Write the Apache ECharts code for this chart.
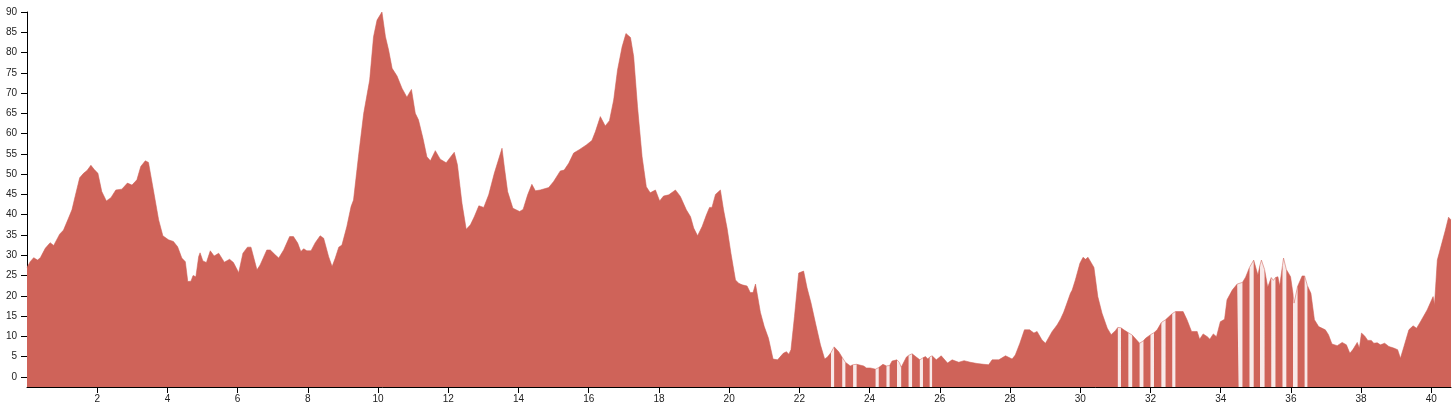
<!DOCTYPE html>
<html>
<head>
<meta charset="utf-8">
<script src="https://cdn.jsdelivr.net/npm/echarts@6/dist/echarts.min.js"></script>
<style>
html,body{margin:0;padding:0;background:#fff;}
#chart{width:1453px;height:407px;}
</style>
</head>
<body>
<div id="chart"></div>
<script>
// distance (x) values
const dist = [
0.00,0.09,0.19,0.30,0.38,0.52,0.66,0.76,0.93,1.04,1.18,1.28,1.37,1.50,1.61,1.71,1.82,1.91,2.02,2.13,
2.26,2.39,2.53,2.70,2.86,2.99,3.13,3.24,3.37,3.46,3.60,3.75,3.87,4.03,4.17,4.29,4.41,4.51,4.58,4.67,
4.73,4.81,4.89,4.93,5.01,5.11,5.22,5.33,5.46,5.62,5.77,5.88,6.03,6.15,6.28,6.38,6.55,6.64,6.83,6.93,
7.07,7.17,7.31,7.48,7.59,7.71,7.80,7.88,7.97,8.09,8.21,8.35,8.45,8.59,8.69,8.78,8.88,8.97,9.11,9.23,
9.30,9.44,9.59,9.76,9.87,9.97,10.11,10.21,10.30,10.40,10.54,10.68,10.82,10.95,11.06,11.15,11.28,11.39,11.49,11.63,
11.77,11.94,12.06,12.17,12.26,12.39,12.51,12.63,12.74,12.87,13.01,13.15,13.31,13.53,13.60,13.69,13.84,14.03,14.13,14.26,
14.38,14.48,14.62,14.86,15.00,15.19,15.30,15.43,15.57,15.74,15.93,16.09,16.19,16.33,16.47,16.59,16.71,16.82,16.95,17.06,
17.19,17.28,17.39,17.52,17.64,17.75,17.90,18.02,18.13,18.28,18.47,18.61,18.78,18.90,18.99,19.10,19.23,19.35,19.44,19.51,
19.61,19.75,19.84,19.94,20.05,20.18,20.27,20.37,20.51,20.60,20.68,20.75,20.89,21.00,21.12,21.25,21.38,21.54,21.63,21.70,
21.76,21.86,21.98,22.12,22.22,22.33,22.46,22.60,22.72,22.80,22.90,22.99,23.03,23.12,23.22,23.31,23.45,23.53,23.63,23.83,
23.91,24.02,24.17,24.26,24.38,24.48,24.57,24.64,24.78,24.85,24.90,25.05,25.11,25.21,25.43,25.52,25.59,25.66,25.71,25.78,
25.90,26.04,26.22,26.35,26.54,26.69,26.87,27.06,27.25,27.39,27.49,27.68,27.87,28.06,28.15,28.28,28.41,28.56,28.68,28.77,
28.91,29.01,29.20,29.34,29.44,29.53,29.63,29.72,29.77,29.86,29.99,30.08,30.15,30.22,30.39,30.50,30.62,30.77,30.88,31.00,
31.07,31.16,31.24,31.37,31.48,31.69,31.80,31.86,32.00,32.10,32.19,32.31,32.43,32.62,32.71,32.93,33.04,33.17,33.33,33.40,
33.50,33.62,33.69,33.79,33.88,33.99,34.11,34.18,34.33,34.47,34.51,34.62,34.71,34.82,34.94,35.06,35.12,35.16,35.25,35.34,
35.44,35.50,35.56,35.63,35.68,35.76,35.79,35.87,35.99,36.06,36.09,36.19,36.32,36.39,36.47,36.57,36.67,36.79,36.98,37.07,
37.17,37.32,37.46,37.58,37.68,37.77,37.89,37.95,38.01,38.10,38.19,38.29,38.36,38.46,38.55,38.67,38.79,38.93,39.04,39.12,
39.22,39.36,39.48,39.58,39.69,39.88,40.05,40.09,40.17,40.26,40.40,40.49,40.56
];
// elevation (y) values
const elev = [
27.0,28.4,29.4,28.8,29.4,31.7,33.1,32.4,35.2,36.2,39.1,41.2,44.5,49.1,50.2,50.9,52.2,51.2,50.2,45.7,
43.4,44.2,46.1,46.3,47.8,47.3,48.6,51.9,53.3,52.9,46.1,38.7,34.8,33.8,33.4,32.1,29.3,28.4,23.5,23.6,
25.0,24.7,29.7,30.6,28.6,28.2,31.1,29.8,30.5,28.3,29.0,28.2,25.7,30.5,32.0,32.0,26.4,27.6,31.3,31.3,
30.1,29.3,31.3,34.6,34.6,33.0,30.9,31.6,31.1,31.1,33.1,34.8,34.2,29.7,27.2,29.3,32.0,32.5,37.1,42.0,
43.6,54.3,65.0,73.2,83.9,88.0,90.0,83.9,80.6,76.1,74.2,71.2,69.0,70.9,65.0,63.4,58.8,54.3,53.3,55.8,
53.7,52.8,54.2,55.4,52.3,42.8,36.4,37.5,39.5,42.2,41.8,44.9,50.2,56.4,51.5,45.7,41.6,40.8,41.3,44.9,
47.5,45.9,46.1,46.7,48.2,50.8,51.0,52.7,55.2,56.1,57.2,58.3,60.5,64.2,61.9,63.2,68.3,75.7,81.4,84.7,
83.7,79.0,66.6,54.3,46.9,45.4,46.1,43.4,44.6,44.9,46.1,44.5,41.2,39.5,36.7,34.8,37.1,39.9,41.8,41.8,
45.0,46.1,41.2,36.7,30.5,23.9,23.1,22.7,22.4,20.8,20.8,22.9,15.9,12.4,9.5,4.4,4.2,5.8,6.2,5.6,
6.7,14.9,25.6,26.1,21.9,18.3,13.2,7.9,4.4,4.9,6.0,7.4,7.5,6.2,4.8,3.6,2.7,3.0,3.1,2.7,
2.2,2.2,1.9,2.3,3.1,2.7,2.8,3.9,4.2,3.5,2.4,4.9,5.3,5.7,4.2,4.7,5.0,4.4,4.9,5.2,
4.2,5.2,3.4,4.2,3.6,4.0,3.6,3.3,3.1,3.0,4.2,4.2,5.2,4.4,5.4,8.3,11.6,11.6,10.8,11.2,
9.1,8.3,11.2,12.8,14.3,16.0,18.4,20.6,21.4,23.9,28.0,29.5,29.0,29.5,27.0,19.8,15.7,12.0,10.4,11.4,
12.2,12.1,11.6,10.9,10.3,8.3,8.9,9.5,10.4,10.9,11.6,13.4,14.1,15.6,16.1,16.1,14.1,11.2,11.2,9.3,
10.6,9.9,9.3,10.6,9.9,13.6,14.2,19.0,21.4,22.9,23.1,23.3,24.6,27.0,28.8,25.1,27.6,28.8,26.5,22.1,
24.5,23.8,24.5,24.7,22.4,27.5,29.3,26.5,24.7,20.5,18.2,22.3,24.9,24.9,22.5,20.6,14.1,12.4,11.6,10.4,
8.1,7.7,8.5,7.9,5.8,6.8,8.5,7.1,10.8,10.1,9.0,9.0,8.3,8.4,7.9,8.3,7.5,7.1,6.7,4.6,
7.5,11.6,12.6,12.0,13.6,16.5,19.8,17.8,28.8,31.7,36.2,39.4,38.7
];
// stretches where the solid fill is missing (start, end distance)
const gaps = [
[22.90,22.99],[23.22,23.31],[23.53,23.63],[24.17,24.26],[24.48,24.57],[24.78,24.90],
[25.11,25.21],[25.43,25.52],[25.71,25.78],
[31.07,31.16],[31.37,31.48],[31.69,31.80],[32.00,32.10],[32.31,32.43],[32.62,32.71],
[34.51,34.62],[34.82,34.94],[35.12,35.25],[35.44,35.56],[35.76,35.87],[36.06,36.19],[36.39,36.47]
];
const xTicks = [2,4,6,8,10,12,14,16,18,20,22,24,26,28,30,32,34,36,38,40];
const yTicks = [0,5,10,15,20,25,30,35,40,45,50,55,60,65,70,75,80,85,90];

const full = dist.map((d, i) => [d, elev[i]]);
const solid = [];
dist.forEach((d, i) => {
  const inside = gaps.some(g => d > g[0] && d < g[1]);
  solid.push([d, inside ? null : elev[i]]);
  if (gaps.some(g => g[0] === d)) solid.push([d, null]);
});

const FILL = '#cf6359';
const chart = echarts.init(document.getElementById('chart'), null, {renderer: 'canvas'});
const axisFont = {fontFamily: '"Liberation Sans", Arial, sans-serif', fontSize: 10, color: '#222'};
chart.setOption({
  animation: false,
  grid: {left: 27, right: 2, top: 12, bottom: 20, containLabel: false},
  xAxis: {
    type: 'value', min: 0, max: 'dataMax',
    axisLine: {onZero: false, lineStyle: {color: '#000', width: 1}},
    axisTick: {customValues: xTicks, length: 6, lineStyle: {color: '#000'}},
    axisLabel: Object.assign({customValues: xTicks, margin: 7}, axisFont),
    splitLine: {show: false}
  },
  yAxis: {
    type: 'value', min: -2.5, max: 90,
    axisLine: {show: true, onZero: false, lineStyle: {color: '#000', width: 1}},
    axisTick: {show: true, customValues: yTicks, length: 6, lineStyle: {color: '#000'}},
    axisLabel: Object.assign({customValues: yTicks, margin: 10}, axisFont),
    splitLine: {show: false}
  },
  series: [
    {
      type: 'line', data: full, symbol: 'none', silent: true,
      lineStyle: {color: FILL, width: 1, opacity: 0.55},
      areaStyle: {color: FILL, opacity: 0.14, origin: 'start'}
    },
    {
      type: 'line', data: solid, symbol: 'none', silent: true, connectNulls: false,
      lineStyle: {width: 0, opacity: 0},
      areaStyle: {color: FILL, opacity: 1, origin: 'start'}
    }
  ]
});
</script>
</body>
</html>
